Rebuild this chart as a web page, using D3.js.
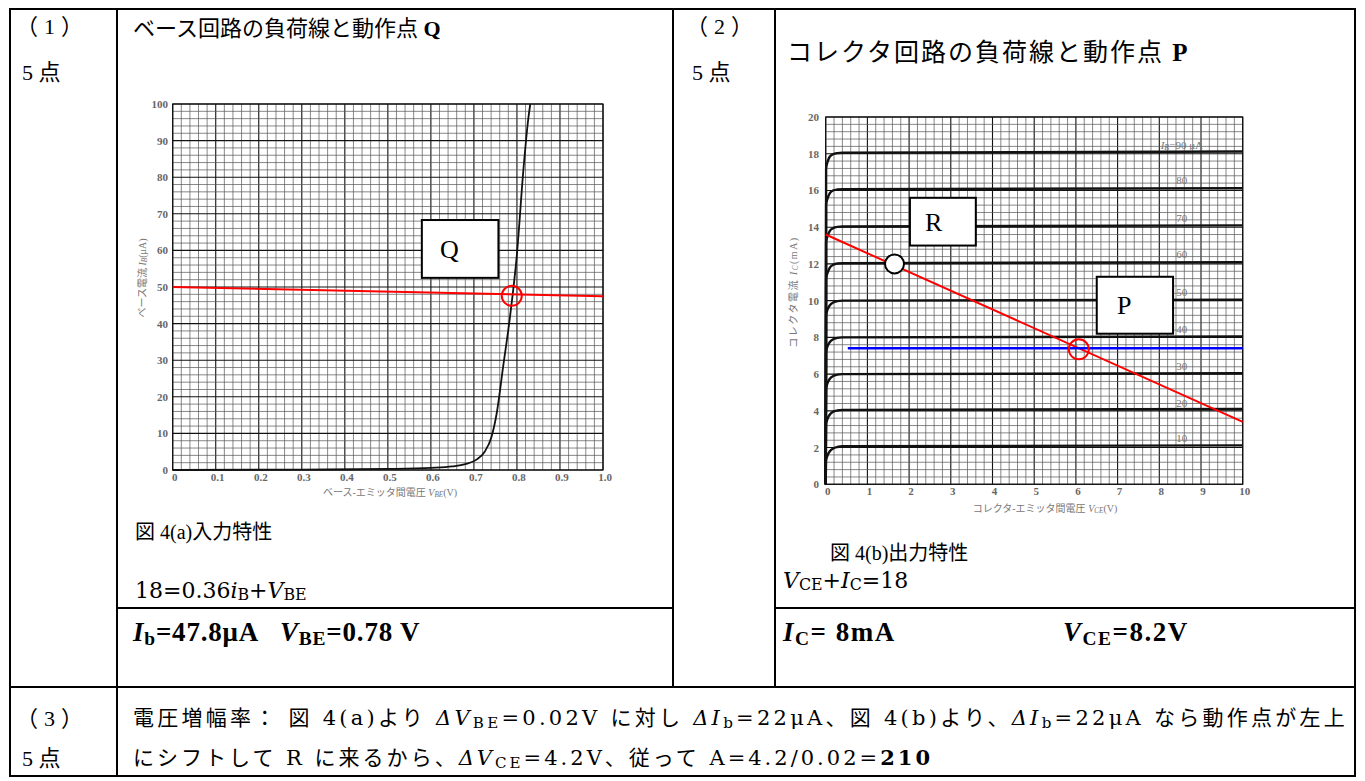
<!DOCTYPE html>
<html>
<head>
<meta charset="utf-8">
<style>
  body { margin: 0; background: #fff; }
  svg text { font-family: 'Liberation Serif', 'Noto Sans CJK JP', serif; white-space: pre; }
  svg text.wide { font-family: 'DejaVu Serif', 'Noto Sans CJK JP', serif; }
</style>
</head>
<body>
<div id="chart"></div>
<script src="https://d3js.org/d3.v7.min.js"></script>
<script>
// ---- figure 4(a): input characteristic ----
var vbeTicks = [0, 0.1, 0.2, 0.3, 0.4, 0.5, 0.6, 0.7, 0.8, 0.9, 1.0];
var vbeLabels = ["0", "0.1", "0.2", "0.3", "0.4", "0.5", "0.6", "0.7", "0.8", "0.9", "1.0"];
var ibTicks = [0, 10, 20, 30, 40, 50, 60, 70, 80, 90, 100];
var inputV = [0, 0.3, 0.5, 0.6, 0.65, 0.68, 0.707, 0.725, 0.741, 0.753, 0.768, 0.784, 0.80, 0.815, 0.826, 0.831];
var inputI = [0, 0.1, 0.3, 0.6, 1.0, 1.6, 2.9, 5.0, 9.1, 15.5, 28.3, 42, 59, 82, 95.6, 100];
var baseLoadV = [0, 1.0];
var baseLoadI = [50, 47.5];
var pointQ = [0.788, 47.6];

// ---- figure 4(b): output characteristic ----
var vceTicks = [0, 1, 2, 3, 4, 5, 6, 7, 8, 9, 10];
var icTicks = [0, 2, 4, 6, 8, 10, 12, 14, 16, 18, 20];
var kneeV = [0, 0.01, 0.05, 0.1, 0.18, 0.28, 0.4, 10];
var ibValues = [10, 20, 30, 40, 50, 60, 70, 80, 90];
var icCurves = [
  [0, 1.3, 1.6, 1.8, 1.95, 2.03, 2.07, 2.12],
  [0, 3.3, 3.6, 3.8, 3.95, 4.02, 4.05, 4.1],
  [0, 5.2, 5.55, 5.75, 5.9, 5.97, 6.0, 6.05],
  [0, 7.2, 7.55, 7.75, 7.9, 7.97, 8.0, 8.05],
  [0, 9.2, 9.55, 9.75, 9.9, 9.97, 10.0, 10.05],
  [0, 11.2, 11.55, 11.8, 11.95, 12.02, 12.04, 12.1],
  [0, 13.2, 13.55, 13.8, 13.95, 14.02, 14.04, 14.1],
  [0, 15.25, 15.6, 15.85, 16.0, 16.05, 16.07, 16.12],
  [0, 17.2, 17.6, 17.85, 17.98, 18.03, 18.05, 18.12]
];
var ibLabelIc = [2.5, 4.45, 6.45, 8.45, 10.45, 12.55, 14.5, 16.55, 18.5];
var ibLabelVce = 8.54;
var collLoadV = [0, 10];
var collLoadI = [13.6, 3.4];
var pointR = [1.65, 12.0];
var pointP = [6.07, 7.35];
var biasV = [0.53, 10];
var biasI = [7.41, 7.41];

var W = 1365, H = 781;
var svg = d3.select("#chart").append("svg").attr("width", W).attr("height", H);

// rich text helper: segments are strings or {t, i, b, sub}
function rich(parent, x, yMid, size, segs) {
  var t = parent.append("text").attr("x", x).attr("y", yMid + size * 0.35).attr("font-size", size);
  var shift = 0;
  segs.forEach(function (s) {
    if (typeof s === "string") s = { t: s };
    var sh = s.sub ? size * 0.12 : 0;
    var sp = t.append("tspan").text(s.t).attr("dy", sh - shift)
      .attr("font-size", s.sub ? size * 0.72 : size);
    if (s.i) sp.attr("font-style", "italic");
    if (s.b) sp.attr("font-weight", "bold");
    shift = sh;
  });
  return t;
}

// spread a text line so that it spans the given width
function spread(t, width) {
  var w = t.node().getBBox().width;
  var n = t.text().length;
  if (w < width) t.attr("letter-spacing", (width - w) / n);
  else t.attr("transform", "translate(" + t.attr("x") + ",0) scale(" + (width / w) + ",1) translate(" + (-t.attr("x")) + ",0)");
  return t;
}

// ---- table ----
var tbl = svg.append("g").attr("stroke", "#000").attr("fill", "none");
tbl.append("rect").attr("x", 10).attr("y", 9).attr("width", 1345).attr("height", 767).attr("stroke-width", 2);
[[117, 9, 117, 776], [673, 9, 673, 687], [775, 9, 775, 687],
 [10, 687, 1355, 687], [117, 608, 673, 608], [775, 608, 1355, 608]].forEach(function (l) {
  tbl.append("line").attr("x1", l[0]).attr("y1", l[1]).attr("x2", l[2]).attr("y2", l[3]).attr("stroke-width", 2);
});

rich(svg, 16, 26, 22, ["（1）"]).attr("letter-spacing", 6);
rich(svg, 22, 72, 22, ["5 点"]);
rich(svg, 686, 26, 22, ["（2）"]).attr("letter-spacing", 6);
rich(svg, 692, 72, 22, ["5 点"]);
rich(svg, 16, 718, 22, ["（3）"]).attr("letter-spacing", 6);
rich(svg, 22, 758, 22, ["5 点"]);

rich(svg, 133, 28, 22, ["ベース回路の負荷線と動作点 ", { t: "Q", b: true }]);
rich(svg, 787, 52, 25, ["コレクタ回路の負荷線と動作点 ", { t: "P", b: true }]).attr("letter-spacing", 2);

// ---- chart helpers ----
function isMajor(v, step) { return Math.abs(v / step - Math.round(v / step)) < 1e-6; }
function drawGrid(g, x, y, xs, ys) {
  var d = x.domain(), e = y.domain();
  var xr = x.range(), yr = y.range();
  g.selectAll(null).data(d3.range(d[0], d[1] + xs[0] / 2, xs[0])).join("line")
    .attr("x1", function (v) { return x(v); }).attr("x2", function (v) { return x(v); })
    .attr("y1", yr[0]).attr("y2", yr[1])
    .attr("stroke", function (v) { return isMajor(v, xs[1]) ? "#111" : "#555"; })
    .attr("stroke-width", function (v) { return isMajor(v, xs[1]) ? 1.1 : 0.7; });
  g.selectAll(null).data(d3.range(e[0], e[1] + ys[0] / 2, ys[0])).join("line")
    .attr("y1", function (v) { return y(v); }).attr("y2", function (v) { return y(v); })
    .attr("x1", xr[0]).attr("x2", xr[1])
    .attr("stroke", function (v) { return isMajor(v, ys[1]) ? "#111" : "#555"; })
    .attr("stroke-width", function (v) { return isMajor(v, ys[1]) ? 1.1 : 0.7; });
  g.append("rect").attr("x", xr[0]).attr("y", yr[1]).attr("width", xr[1] - xr[0]).attr("height", yr[0] - yr[1])
    .attr("fill", "none").attr("stroke", "#111").attr("stroke-width", 1.2);
}

function noteBox(g, x0, y0, x1, y1, label) {
  g.append("rect").attr("x", x0).attr("y", y0).attr("width", x1 - x0).attr("height", y1 - y0)
    .attr("fill", "#fff").attr("stroke", "#000").attr("stroke-width", 2);
  g.append("text").attr("x", x0 + (x1 - x0) * 0.36).attr("y", (y0 + y1) / 2 + 9)
    .attr("text-anchor", "middle").attr("font-size", 26).text(label);
}

// ---- chart (a) ----
var xa = d3.scaleLinear().domain([0, 1]).range([172.7, 603]);
var ya = d3.scaleLinear().domain([0, 100]).range([470, 104]);
var ga = svg.append("g");
drawGrid(ga, xa, ya, [0.02, 0.1], [2, 10]);
ga.selectAll(null).data(ibTicks).join("text")
  .attr("x", 168).attr("y", function (d) { return ya(d) + 4; })
  .attr("text-anchor", "end").attr("font-size", 11).attr("fill", "#666").attr("font-weight", "bold")
  .text(function (d) { return d; });
ga.selectAll(null).data(vbeTicks).join("text")
  .attr("x", function (d) { return xa(d) + 2; }).attr("y", 481)
  .attr("text-anchor", "middle").attr("font-size", 11).attr("fill", "#666").attr("font-weight", "bold")
  .text(function (d, i) { return vbeLabels[i]; });
rich(ga, 0, 0, 10, ["ベース-エミッタ間電圧 ", { t: "V", i: true }, { t: "BE", i: true, sub: true }, "(V)"])
  .attr("x", 390).attr("y", 496).attr("text-anchor", "middle").attr("fill", "#777");
rich(ga, 0, 0, 10, ["ベース電流 ", { t: "I", i: true }, { t: "B", i: true, sub: true }, "(μA)"])
  .attr("x", 0).attr("y", 0).attr("text-anchor", "middle").attr("fill", "#777")
  .attr("transform", "translate(146,278) rotate(-90)");

var lineA = d3.line().x(function (d) { return xa(d[0]); }).y(function (d) { return ya(d[1]); });
ga.append("path").attr("d", lineA.curve(d3.curveMonotoneX)(d3.zip(inputV, inputI)))
  .attr("fill", "none").attr("stroke", "#111").attr("stroke-width", 1.8);
ga.append("path").attr("d", d3.line().x(function (d) { return xa(d[0]); }).y(function (d) { return ya(d[1]); })(d3.zip(baseLoadV, baseLoadI)))
  .attr("fill", "none").attr("stroke", "#ff0000").attr("stroke-width", 2);
ga.append("circle").attr("cx", xa(pointQ[0])).attr("cy", ya(pointQ[1])).attr("r", 10)
  .attr("fill", "none").attr("stroke", "#ff0000").attr("stroke-width", 2);
noteBox(ga, xa(0.579), ya(68.3), xa(0.757), ya(52.5), "Q");

// ---- chart (b) ----
var xb = d3.scaleLinear().domain([0, 10]).range([825.7, 1242.7]);
var yb = d3.scaleLinear().domain([0, 20]).range([484.3, 117]);
var gb = svg.append("g");
drawGrid(gb, xb, yb, [0.2, 1], [0.4, 2]);
gb.selectAll(null).data(icTicks).join("text")
  .attr("x", 819).attr("y", function (d) { return yb(d) + 4; })
  .attr("text-anchor", "end").attr("font-size", 11).attr("fill", "#666").attr("font-weight", "bold")
  .text(function (d) { return d; });
gb.selectAll(null).data(vceTicks).join("text")
  .attr("x", function (d) { return xb(d) + 2; }).attr("y", 495)
  .attr("text-anchor", "middle").attr("font-size", 11).attr("fill", "#666").attr("font-weight", "bold")
  .text(function (d) { return d; });
rich(gb, 0, 0, 10, ["コレクタ-エミッタ間電圧 ", { t: "V", i: true }, { t: "CE", i: true, sub: true }, "(V)"])
  .attr("x", 1045).attr("y", 512).attr("text-anchor", "middle").attr("fill", "#777");
rich(gb, 0, 0, 10, ["コレクタ電流 ", { t: "I", i: true }, { t: "C", i: true, sub: true }, "(mA)"])
  .attr("x", 0).attr("y", 0).attr("text-anchor", "middle").attr("fill", "#777").attr("letter-spacing", 1.5)
  .attr("transform", "translate(797,292) rotate(-90)");

var lineB = d3.line().x(function (d) { return xb(d[0]); }).y(function (d) { return yb(d[1]); }).curve(d3.curveMonotoneX);
icCurves.forEach(function (ic) {
  gb.append("path").attr("d", lineB(d3.zip(kneeV, ic)))
    .attr("fill", "none").attr("stroke", "#111").attr("stroke-width", 2.4);
});
gb.selectAll(null).data(ibValues.slice(0, 8)).join("text")
  .attr("x", xb(ibLabelVce)).attr("y", function (d, i) { return yb(ibLabelIc[i]) + 4; })
  .attr("text-anchor", "middle").attr("font-size", 11).attr("fill", "#777")
  .text(function (d) { return d; });
rich(gb, 0, 0, 11, [{ t: "I", i: true }, { t: "B", i: true, sub: true }, "=" + ibValues[8] + " μA"])
  .attr("x", xb(ibLabelVce)).attr("y", yb(ibLabelIc[8]) + 4).attr("text-anchor", "middle").attr("fill", "#777");

var straight = d3.line().x(function (d) { return xb(d[0]); }).y(function (d) { return yb(d[1]); });
gb.append("path").attr("d", straight(d3.zip(collLoadV, collLoadI)))
  .attr("fill", "none").attr("stroke", "#ff0000").attr("stroke-width", 2);
gb.append("path").attr("d", straight(d3.zip(biasV, biasI)))
  .attr("fill", "none").attr("stroke", "#0000ff").attr("stroke-width", 2.5);
gb.append("circle").attr("cx", xb(pointR[0])).attr("cy", yb(pointR[1])).attr("r", 9.5)
  .attr("fill", "#fff").attr("stroke", "#000").attr("stroke-width", 2);
gb.append("circle").attr("cx", xb(pointP[0])).attr("cy", yb(pointP[1])).attr("r", 10)
  .attr("fill", "none").attr("stroke", "#ff0000").attr("stroke-width", 2);
noteBox(gb, xb(2.02), yb(15.6), xb(3.6), yb(13.0), "R");
noteBox(gb, xb(6.5), yb(11.3), xb(8.33), yb(8.2), "P");

// ---- captions, formulas, answers ----
rich(svg, 135, 532, 20, ["図 4(a)入力特性"]);
rich(svg, 135, 590, 22, ["18=0.36", { t: "i", i: true }, { t: "B", sub: true }, { t: "+", i: true }, { t: "V", i: true }, { t: "BE", sub: true }]).classed("wide", true);
rich(svg, 133, 632, 27, [{ t: "I", i: true, b: true }, { t: "b", b: true, sub: true }, { t: "=47.8μA", b: true }]).attr("letter-spacing", 0.8);
rich(svg, 280, 632, 27, [{ t: "V", i: true, b: true }, { t: "BE", b: true, sub: true }, { t: "=0.78 V", b: true }]).attr("letter-spacing", 0.8);

rich(svg, 830, 553, 20, ["図 4(b)出力特性"]);
rich(svg, 783, 580, 22, [{ t: "V", i: true }, { t: "CE", sub: true }, "+", { t: "I", i: true }, { t: "C", sub: true }, "=18"]).classed("wide", true);
rich(svg, 783, 632, 27, [{ t: "I", i: true, b: true }, { t: "C", b: true, sub: true }, { t: "= 8mA", b: true }]).attr("letter-spacing", 1.5);
rich(svg, 1063, 632, 27, [{ t: "V", i: true, b: true }, { t: "CE", b: true, sub: true }, { t: "=8.2V", b: true }]).attr("letter-spacing", 1.5);

var l1 = rich(svg, 133, 718, 21, ["電圧増幅率： 図 4(a)より ", { t: "ΔV", i: true }, { t: "BE", sub: true }, "=0.02V に対し ",
  { t: "ΔI", i: true }, { t: "b", sub: true }, "=22μA、図 4(b)より、", { t: "ΔI", i: true }, { t: "b", sub: true }, "=22μA なら動作点が左上"]).classed("wide", true);
var l2 = rich(svg, 133, 758, 21, ["にシフトして R に来るから、", { t: "ΔV", i: true }, { t: "CE", sub: true }, "=4.2V、従って A=4.2/0.02=", { t: "210", b: true }]).classed("wide", true);
spread(l1, 1215);
spread(l2, 800);
</script>
</body>
</html>
